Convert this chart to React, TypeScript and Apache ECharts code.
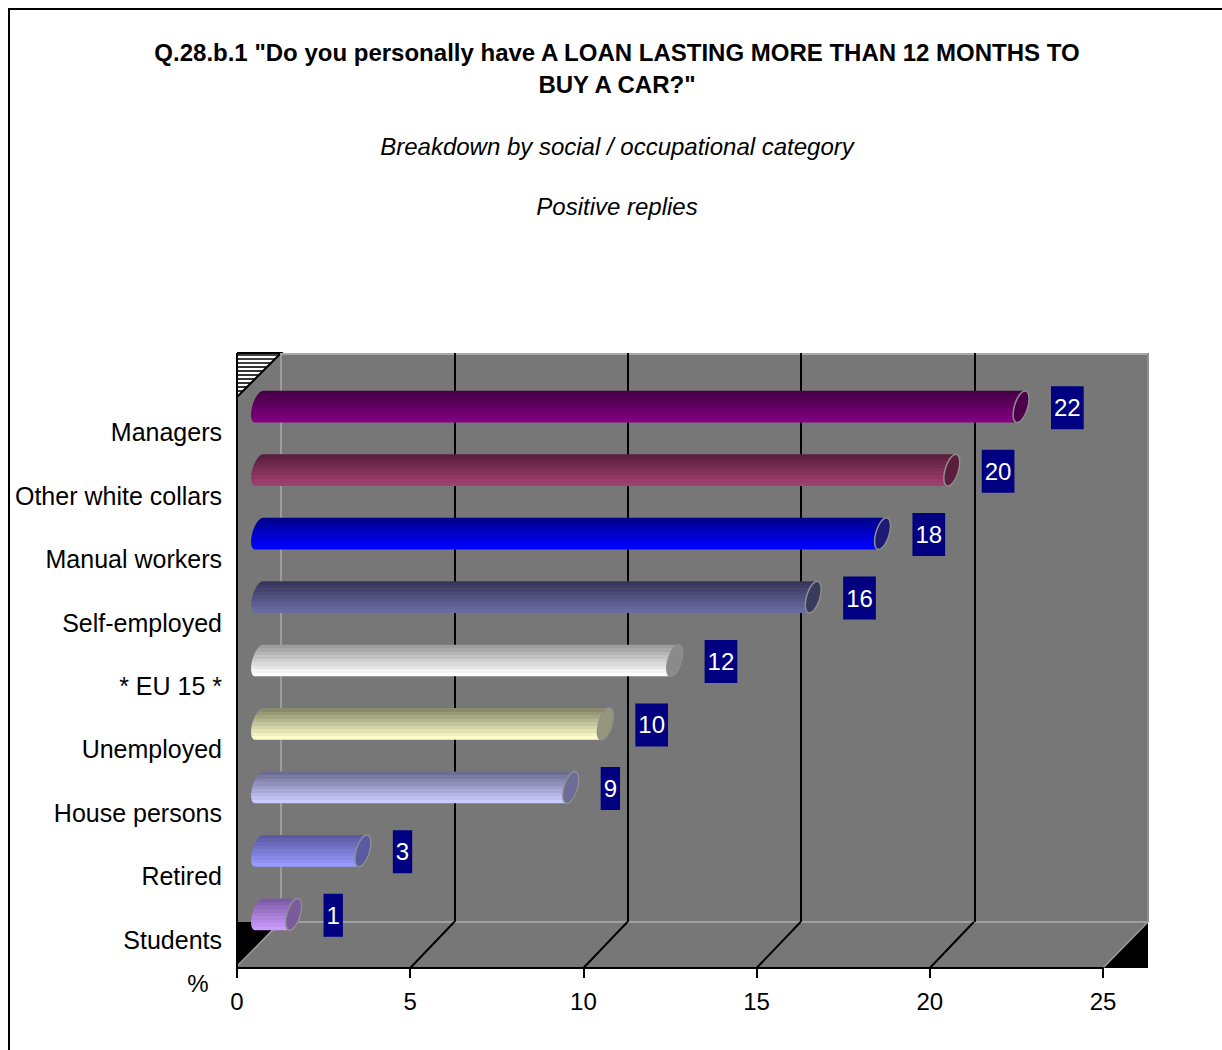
import React, { useEffect, useRef } from "react";
import * as echarts from "echarts";

// ---- data ----
const categories = [
  "Managers",
  "Other white collars",
  "Manual workers",
  "Self-employed",
  "* EU 15 *",
  "Unemployed",
  "House persons",
  "Retired",
  "Students",
];
const positiveReplies = [22, 20, 18, 16, 12, 10, 9, 3, 1];
const floorTickValues = [5, 10, 15, 20];

const titleLines = [
  'Q.28.b.1 "Do you personally have A LOAN LASTING MORE THAN 12 MONTHS TO',
  'BUY A CAR?"',
];
const subtitle = "Breakdown by social / occupational category";
const subtitle2 = "Positive replies";
const unitLabel = "%";

// ---- styling ----
const FONT = '"Liberation Sans", Arial, Helvetica, sans-serif';
const barTop = ["#470047", "#5a1d3e", "#00008c", "#37375c", "#9c9c9c", "#8a8a6c", "#6e6e94", "#5a5aa4", "#7b5ca4"];
const barBottom = ["#800080", "#a0406e", "#0000ff", "#6a6aa2", "#ffffff", "#ffffcc", "#ccccff", "#9999ff", "#cc99ff"];
const capFill = ["#4c004c", "#5c1d3d", "#1c1c74", "#3a3a5c", "#8a8a8a", "#96967a", "#6c6c98", "#5a5aa2", "#7a5c9c"];

function hex(c: string) {
  return [1, 3, 5].map((i) => parseInt(c.slice(i, i + 2), 16));
}
function mix(a: string, b: string, t: number) {
  const pa = hex(a);
  const pb = hex(b);
  const m = pa.map((v, i) => Math.round(v + (pb[i] - v) * t));
  return `rgb(${m[0]},${m[1]},${m[2]})`;
}
function banded(top: string, bottom: string, n = 9) {
  const stops: { offset: number; color: string }[] = [];
  for (let i = 0; i < n; i++) {
    const c = mix(top, bottom, i / (n - 1));
    stops.push({ offset: i / n, color: c }, { offset: (i + 1) / n, color: c });
  }
  return new echarts.graphic.LinearGradient(0, 0, 0, 1, stops);
}

// 3D box geometry (pixels)
const FRONT = { left: 237, top: 397, width: 866, height: 571 };
const LABELS = { left: 237, top: 400.5, width: 866, height: 571 };
const MID = { left: 259, top: 375, width: 866, height: 571 };
const BACK = { left: 281, top: 353, width: 867, height: 569 };
const DEPTH_DX = 44;
const DEPTH_DY = -46;

function hatchLines() {
  const els: any[] = [];
  for (let y = 355; y < 396; y += 4) {
    const x2 = BACK.left - (y - BACK.top);
    els.push({
      type: "line",
      z: -1,
      shape: { x1: FRONT.left, y1: y, x2, y2: y },
      style: { stroke: "#000", lineWidth: 1.6 },
    });
  }
  return els;
}

function buildOption(): any {
  const floorY = FRONT.top + FRONT.height;
  const backBottom = BACK.top + BACK.height;
  const backRight = BACK.left + BACK.width;
  const frontRight = FRONT.left + FRONT.width;

  const graphic: any[] = [
    // outer frame
    {
      type: "rect",
      z: -3,
      shape: { x: 9, y: 9, width: 1300, height: 1100 },
      style: { fill: "#ffffff", stroke: "#000", lineWidth: 2 },
    },
    // walls and floor
    {
      type: "polygon",
      z: -2,
      shape: {
        points: [
          [FRONT.left, BACK.top],
          [backRight, BACK.top],
          [backRight, backBottom],
          [frontRight, floorY],
          [FRONT.left, floorY],
        ],
      },
      style: { fill: "#777777" },
    },
    // hatched top-left corner
    {
      type: "polygon",
      z: -1,
      shape: { points: [[FRONT.left, BACK.top], [BACK.left, BACK.top], [FRONT.left, FRONT.top]] },
      style: { fill: "#ffffff" },
    },
    ...hatchLines(),
    {
      type: "polyline",
      z: -1,
      shape: { points: [[FRONT.left, BACK.top], [BACK.left, BACK.top], [FRONT.left, FRONT.top]] },
      style: { stroke: "#000", lineWidth: 2, fill: "none" },
    },
    // dark corners at the floor
    {
      type: "polygon",
      z: -1,
      shape: { points: [[FRONT.left, backBottom], [BACK.left - 2, backBottom], [FRONT.left, floorY - 2]] },
      style: { fill: "#000" },
    },
    {
      type: "polygon",
      z: -1,
      shape: { points: [[frontRight, floorY], [backRight, floorY], [backRight, backBottom]] },
      style: { fill: "#000" },
    },
    // light edges of the box
    { type: "line", z: -1, shape: { x1: BACK.left, y1: BACK.top + 1, x2: backRight, y2: BACK.top + 1 }, style: { stroke: "#a8a8a8", lineWidth: 2 } },
    { type: "line", z: -1, shape: { x1: backRight, y1: BACK.top, x2: backRight, y2: backBottom }, style: { stroke: "#8c8c8c", lineWidth: 2 } },
    { type: "line", z: -1, shape: { x1: BACK.left, y1: BACK.top, x2: BACK.left, y2: backBottom }, style: { stroke: "#9c9c9c", lineWidth: 2 } },
    { type: "line", z: -1, shape: { x1: BACK.left, y1: backBottom, x2: backRight, y2: backBottom }, style: { stroke: "#a0a0a0", lineWidth: 2 } },
    { type: "line", z: -1, shape: { x1: FRONT.left, y1: floorY - 2, x2: BACK.left, y2: backBottom }, style: { stroke: "#9a9a9a", lineWidth: 1.5 } },
    { type: "line", z: -1, shape: { x1: frontRight, y1: floorY, x2: backRight, y2: backBottom }, style: { stroke: "#9a9a9a", lineWidth: 1.5 } },
    // left edge
    { type: "line", z: 5, shape: { x1: FRONT.left, y1: BACK.top, x2: FRONT.left, y2: floorY }, style: { stroke: "#000", lineWidth: 2 } },
    // titles
    {
      type: "text",
      z: 5,
      style: { text: titleLines[0], x: 617, y: 52, align: "center", verticalAlign: "middle", font: `bold 24px ${FONT}`, fill: "#000" },
    },
    {
      type: "text",
      z: 5,
      style: { text: titleLines[1], x: 617, y: 84, align: "center", verticalAlign: "middle", font: `bold 24px ${FONT}`, fill: "#000" },
    },
    {
      type: "text",
      z: 5,
      style: { text: subtitle, x: 617, y: 146, align: "center", verticalAlign: "middle", font: `italic 24px ${FONT}`, fill: "#000" },
    },
    {
      type: "text",
      z: 5,
      style: { text: subtitle2, x: 617, y: 206, align: "center", verticalAlign: "middle", font: `italic 24px ${FONT}`, fill: "#000" },
    },
    {
      type: "text",
      z: 5,
      style: { text: unitLabel, x: 198, y: 983, align: "center", verticalAlign: "middle", font: `24px ${FONT}`, fill: "#000" },
    },
  ];

  const barData = positiveReplies.map((v, i) => [v, categories[i]]);

  return {
    animation: false,
    graphic,
    grid: [
      { ...FRONT, containLabel: false },
      { ...MID, containLabel: false },
      { ...BACK, containLabel: false },
      { ...LABELS, containLabel: false },
    ],
    xAxis: [
      {
        gridIndex: 0,
        type: "value",
        min: 0,
        max: 25,
        interval: 5,
        axisLine: { show: true, lineStyle: { color: "#000", width: 2 } },
        axisTick: { show: true, length: 10, lineStyle: { color: "#000", width: 2 } },
        axisLabel: { fontSize: 24, color: "#000", fontFamily: FONT, margin: 21 },
        splitLine: { show: false },
      },
      {
        gridIndex: 1,
        type: "value",
        min: 0,
        max: 25,
        interval: 5,
        show: false,
      },
      {
        gridIndex: 2,
        type: "value",
        min: 0,
        max: 25,
        interval: 5,
        axisLine: { show: false },
        axisTick: { show: false },
        axisLabel: { show: false },
        splitLine: {
          show: true,
          showMinLine: false,
          showMaxLine: false,
          lineStyle: { color: "#000", width: 2 },
        },
      },
      {
        gridIndex: 3,
        type: "value",
        min: 0,
        max: 25,
        show: false,
      },
    ],
    yAxis: [
      { gridIndex: 0, type: "category", inverse: true, data: categories, show: false },
      { gridIndex: 1, type: "category", inverse: true, data: categories, show: false },
      { gridIndex: 2, type: "category", inverse: true, data: categories, show: false },
      {
        gridIndex: 3,
        type: "category",
        inverse: true,
        data: categories,
        axisLine: { show: false },
        axisTick: { show: false },
        splitLine: { show: false },
        axisLabel: { fontSize: 25, color: "#000", fontFamily: FONT, margin: 15 },
      },
    ],
    series: [
      {
        // receding floor lines under each tick
        type: "custom",
        xAxisIndex: 0,
        yAxisIndex: 0,
        z: 1,
        silent: true,
        data: floorTickValues.map((v) => [v, 0]),
        encode: { x: 0, y: 1 },
        renderItem: (params: any, api: any) => {
          const p = api.coord([api.value(0), 0]);
          const cs = params.coordSys;
          const y0 = cs.y + cs.height;
          return {
            type: "line",
            shape: { x1: p[0], y1: y0, x2: p[0] + DEPTH_DX, y2: y0 + DEPTH_DY },
            style: { stroke: "#000", lineWidth: 2 },
          };
        },
      },
      {
        // cylinder bars with value boxes
        type: "custom",
        name: "Positive replies",
        xAxisIndex: 1,
        yAxisIndex: 1,
        z: 3,
        data: barData,
        encode: { x: 0, y: 1 },
        renderItem: (params: any, api: any) => {
          const idx = params.dataIndex;
          const v = api.value(0);
          const catIdx = api.value(1);
          const start = api.coord([0, catIdx]);
          const end = api.coord([v, catIdx]);
          const band = api.size([0, 1])[1];
          const R = band * 0.25;
          const d = R * 0.5;
          const r = Math.sqrt(R * R - d * d);
          const cy = start[1];
          const ell = (cx: number, t: number) => [cx + d * Math.sin(t), cy + r * Math.cos(t) - d * Math.sin(t)];
          const tTop = Math.PI - Math.atan2(d, r);
          const N = 24;
          const body: number[][] = [];
          for (let k = 0; k <= N; k++) body.push(ell(start[0], tTop + (Math.PI * k) / N));
          for (let k = 0; k <= N; k++) body.push(ell(end[0], tTop + Math.PI + (Math.PI * k) / N));
          const cap: number[][] = [];
          for (let k = 0; k < 2 * N; k++) cap.push(ell(end[0], (Math.PI * k) / N));
          return {
            type: "group",
            children: [
              {
                type: "polygon",
                shape: { points: body },
                style: { fill: banded(barTop[idx], barBottom[idx]) },
              },
              {
                type: "polygon",
                shape: { points: cap },
                style: { fill: capFill[idx], stroke: "#8e8e8e", lineWidth: 1.5 },
              },
              {
                type: "text",
                style: {
                  text: String(v),
                  x: end[0] + d + 22,
                  y: cy + 1,
                  align: "left",
                  verticalAlign: "middle",
                  font: `24px ${FONT}`,
                  fill: "#ffffff",
                  backgroundColor: "#000080",
                  padding: [9, 3, 8, 3],
                  lineHeight: 26,
                },
              },
            ],
          };
        },
      },
    ],
  };
}

export default function App() {
  const ref = useRef<HTMLDivElement>(null);
  useEffect(() => {
    if (!ref.current) return;
    const chart = echarts.init(ref.current, null, { renderer: "svg" });
    chart.setOption(buildOption());
    return () => chart.dispose();
  }, []);
  return (
    <div
      ref={ref}
      style={{ position: "absolute", left: 0, top: 0, width: 1222, height: 1050, background: "#fff" }}
    />
  );
}
